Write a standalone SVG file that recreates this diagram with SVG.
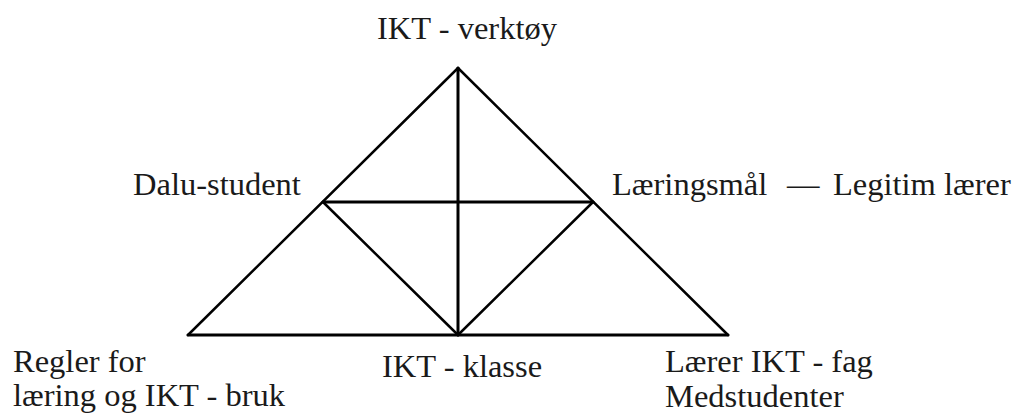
<svg xmlns="http://www.w3.org/2000/svg" width="1015" height="415" viewBox="0 0 1015 415" font-family="Liberation Serif, Times New Roman, serif">
<style>
.lbl{font-family:'Liberation Serif','Times New Roman',serif;font-size:32.5px;fill:#1a1a1a}
.e{stroke:#000;stroke-linecap:round;fill:none}
.hv{stroke-width:3}
.dg{stroke-width:2.5}
</style>
<rect width="1015" height="415" fill="#fff"/>
<g id="connectors">
<line class="e dg" x1="458" y1="68" x2="188" y2="335"/>
<line class="e dg" x1="458" y1="68" x2="728" y2="335"/>
<line class="e hv" x1="188" y1="335" x2="728" y2="335"/>
<line class="e hv" x1="458" y1="68" x2="458" y2="335"/>
<line class="e hv" x1="323" y1="202" x2="593" y2="202"/>
<line class="e dg" x1="323" y1="202" x2="458" y2="335"/>
<line class="e dg" x1="593" y1="202" x2="458" y2="335"/>
</g>
<g id="node-top"><text class="lbl" x="377" y="39">IKT - verktøy</text></g>
<g id="node-left"><text class="lbl" x="133" y="195">Dalu-student</text></g>
<g id="node-right"><text class="lbl" y="195"><tspan x="612">Læringsmål</tspan><tspan x="787">—</tspan><tspan x="833">Legitim lærer</tspan></text></g>
<g id="node-bottom-left"><text class="lbl" x="13" y="372">Regler for</text><text class="lbl" x="13" y="406">læring og IKT - bruk</text></g>
<g id="node-bottom"><text class="lbl" x="382" y="377">IKT - klasse</text></g>
<g id="node-bottom-right"><text class="lbl" x="665" y="372">Lærer IKT - fag</text><text class="lbl" x="665" y="407">Medstudenter</text></g>
</svg>
